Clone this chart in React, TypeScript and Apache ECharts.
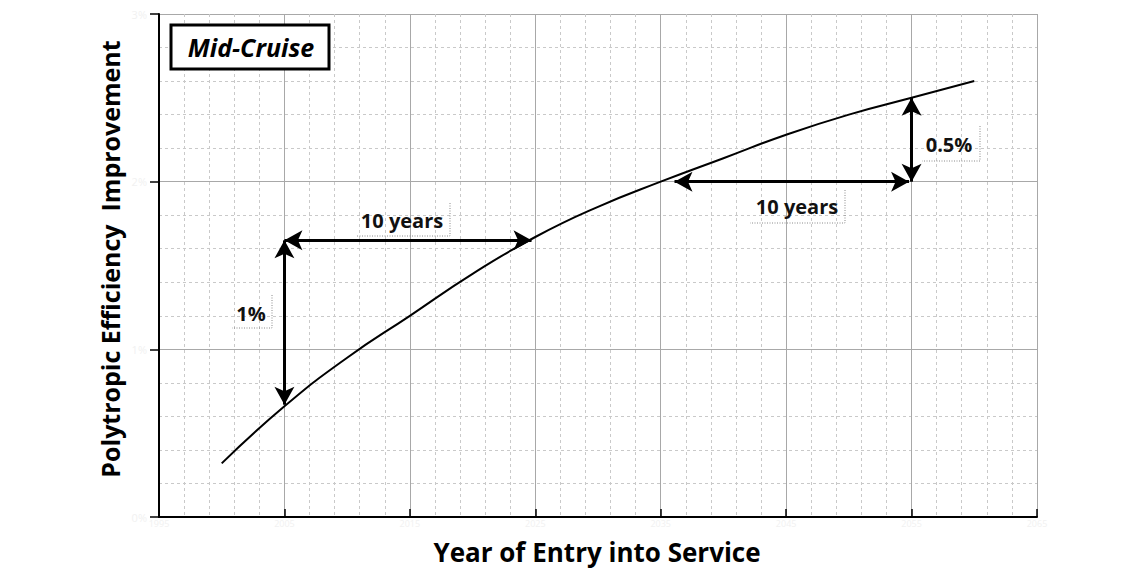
import React, { useEffect, useRef } from "react";
import * as echarts from "echarts";

// Curve: polytropic efficiency improvement (%) vs year of entry into service
const years = [2000, 2005, 2010, 2015, 2020, 2025, 2030, 2035, 2040, 2045, 2050, 2055, 2060];
const improvement = [0.32, 0.66, 0.95, 1.2, 1.45, 1.67, 1.85, 2.0, 2.14, 2.28, 2.4, 2.5, 2.6];

// Axis ranges / ticks
const xMin = 1995;
const xMax = 2065;
const xStep = 10;
const yMin = 0;
const yMax = 3;
const yStep = 1;

// Arrow annotations: [x1, y1, x2, y2]
const arrows = [
  [2005, 0.67, 2005, 1.65],
  [2005, 1.65, 2024.7, 1.65],
  [2036.1, 2.0, 2054.8, 2.0],
  [2055, 2.0, 2055, 2.5],
];

// Annotation texts
const panelTitle = "Mid-Cruise";
const xTitle = "Year of Entry into Service";
const yTitle = "Polytropic Efficiency  Improvement";
const annotLabels = ["1%", "10 years", "10 years", "0.5%"];

const FONT = "'Open Sans', 'Noto Sans', sans-serif";

export default function App() {
  const ref = useRef<HTMLDivElement>(null);

  useEffect(() => {
    if (!ref.current) return;
    const chart = echarts.init(ref.current, undefined, { renderer: "svg" });

    const dotted = { stroke: "#8a8a8a", lineWidth: 1, lineDash: [1, 1.5], fill: null };
    const labelBox = (pts: number[][]) => ({
      type: "polyline",
      silent: true,
      shape: { points: pts },
      style: dotted,
      z: 5,
    });
    const annotText = (text: string, x: number, y: number) => ({
      type: "text",
      x,
      y,
      silent: true,
      z: 6,
      style: {
        text,
        fontFamily: FONT,
        fontWeight: "bold",
        fontSize: 20,
        fill: "#111",
        align: "center",
        verticalAlign: "middle",
      },
    });

    const option: any = {
      animation: false,
      backgroundColor: "#ffffff",
      grid: { left: 159, right: 98, top: 14, bottom: 53, containLabel: false },
      xAxis: {
        type: "value",
        min: xMin,
        max: xMax,
        interval: xStep,
        axisLine: { show: true, onZero: false, lineStyle: { color: "#000", width: 2 } },
        axisTick: { show: true, inside: true, length: 8, lineStyle: { color: "#000", width: 1.5 } },
        axisLabel: {
          show: true,
          color: "#f1f1f1",
          fontFamily: FONT,
          fontSize: 9,
          margin: 2,
          formatter: (v: number) => String(v),
        },
        splitLine: { show: true, lineStyle: { color: "#a8a8a8", width: 1 } },
        minorTick: { show: false, splitNumber: 5 },
        minorSplitLine: { show: true, lineStyle: { color: "#c9c9c9", width: 1, type: [3, 3] } },
      },
      yAxis: {
        type: "value",
        min: yMin,
        max: yMax,
        interval: yStep,
        axisLine: { show: true, onZero: false, lineStyle: { color: "#000", width: 2 } },
        axisTick: { show: true, inside: false, length: 9, lineStyle: { color: "#000", width: 1.5 } },
        axisLabel: {
          show: true,
          color: "#f1f1f1",
          fontFamily: FONT,
          fontSize: 11,
          margin: 12,
          formatter: (v: number) => v + "%",
        },
        splitLine: { show: true, lineStyle: { color: "#a8a8a8", width: 1 } },
        minorTick: { show: false, splitNumber: 5 },
        minorSplitLine: { show: true, lineStyle: { color: "#c9c9c9", width: 1, type: [3, 3] } },
      },
      series: [
        {
          type: "line",
          data: years.map((y, i) => [y, improvement[i]]),
          smooth: 0.5,
          showSymbol: false,
          symbol: "none",
          lineStyle: { color: "#000", width: 2 },
          z: 3,
          silent: true,
          markLine: {
            silent: true,
            symbol: ["arrow", "arrow"],
            symbolSize: [15, 18],
            label: { show: false },
            emphasis: { disabled: true },
            lineStyle: { color: "#000", width: 3, type: "solid" },
            data: arrows.map((a) => [{ coord: [a[0], a[1]] }, { coord: [a[2], a[3]] }]),
          },
        },
      ],
      graphic: [
        // Panel title box
        {
          type: "rect",
          shape: { x: 171, y: 25, width: 158, height: 44 },
          style: { fill: "#fff", stroke: "#000", lineWidth: 3 },
          z: 10,
          silent: true,
        },
        {
          type: "text",
          x: 251,
          y: 47,
          z: 11,
          silent: true,
          style: {
            text: panelTitle,
            fontFamily: FONT,
            fontWeight: "bold",
            fontStyle: "italic",
            fontSize: 25,
            fill: "#000",
            align: "center",
            verticalAlign: "middle",
          },
        },
        // Axis titles
        {
          type: "text",
          x: 597,
          y: 552,
          silent: true,
          style: {
            text: xTitle,
            fontFamily: FONT,
            fontWeight: "bold",
            fontSize: 26,
            fill: "#000",
            align: "center",
            verticalAlign: "middle",
          },
        },
        {
          type: "text",
          x: 110,
          y: 259,
          rotation: Math.PI / 2,
          silent: true,
          style: {
            text: yTitle,
            fontFamily: FONT,
            fontWeight: "bold",
            fontSize: 25,
            fill: "#000",
            align: "center",
            verticalAlign: "middle",
          },
        },
        // Annotation label boxes (dotted right & bottom edges)
        labelBox([[272, 295], [272, 328], [232, 328]]),
        labelBox([[450, 203], [450, 236], [357, 236]]),
        labelBox([[845, 190], [845, 223], [750, 223]]),
        labelBox([[980, 126], [980, 161], [922, 161]]),
        annotText(annotLabels[0], 251, 313),
        annotText(annotLabels[1], 402, 220),
        annotText(annotLabels[2], 797, 206),
        annotText(annotLabels[3], 949, 144),
      ],
    };

    chart.setOption(option);
    return () => chart.dispose();
  }, []);

  return (
    <div
      ref={ref}
      style={{ position: "absolute", left: 0, top: 0, width: 1135, height: 570 }}
    />
  );
}
